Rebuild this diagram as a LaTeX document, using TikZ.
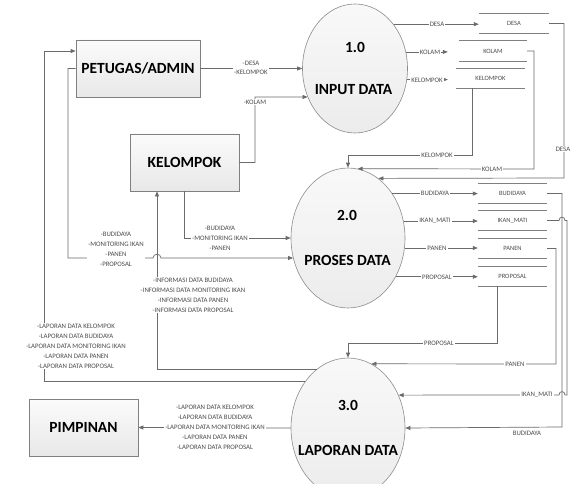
\documentclass[tikz,border=0pt]{standalone}
\usepackage{fontspec}
\setmainfont{Carlito}
\usetikzlibrary{arrows.meta,shapes.geometric}
\begin{document}
\begin{tikzpicture}[x=1pt,y=-1pt,
  ent/.style={draw=black!50, line width=0.7pt, top color=gray!3, bottom color=gray!18, inner sep=0pt, font=\fontsize{15.5}{18}\selectfont\bfseries},
  proc/.style={ellipse, draw=black!45, line width=0.6pt, top color=gray!5, bottom color=gray!15, inner sep=0pt},
  ptitle/.style={font=\fontsize{15.5}{18}\selectfont\bfseries, inner sep=0pt},
  store/.style={inner sep=0pt, font=\fontsize{6.5}{7}\selectfont, text=black!70},
  storeline/.style={draw=black!50, line width=0.8pt},
  flow/.style={draw=black!58, line width=0.7pt, -{Triangle[length=5pt,width=4pt]}},
  lbl/.style={font=\fontsize{6.8}{10}\selectfont, text=black!70, fill=white, inner sep=1pt, align=center},
  lblc/.style={lbl, font=\fontsize{6.8}{9}\selectfont},
]
\clip (0,0) rectangle (573,484);
\fill[white] (0,0) rectangle (573,484);

% external entities
\node[ent, minimum width=124pt, minimum height=57pt] (pet) at (138,68.5) {PETUGAS/ADMIN};
\node[ent, minimum width=109pt, minimum height=57pt] (kel) at (184.5,162.5) {KELOMPOK};
\node[ent, minimum width=109pt, minimum height=57pt] (pim) at (83.5,427.5) {PIMPINAN};

% processes
\node[proc, minimum width=105pt, minimum height=129pt] (p1) at (355,68.5) {};
\node[ptitle] (p1n) at (355,47) {1.0};
\node[ptitle] (p1t) at (353.5,90) {INPUT DATA};
\node[proc, minimum width=114pt, minimum height=140pt] (p2) at (348,238) {};
\node[ptitle] (p2n) at (347,215) {2.0};
\node[ptitle] (p2t) at (347.5,260) {PROSES DATA};
\node[proc, minimum width=114pt, minimum height=140pt] (p3) at (348,428) {};
\node[ptitle] (p3n) at (348,405) {3.0};
\node[ptitle] (p3t) at (348,450) {LAPORAN DATA};

% data stores
\node[store, minimum width=70pt, minimum height=19pt] (sDesa) at (514,23.5) {DESA};
\node[store, minimum width=68pt, minimum height=20pt] (sKolam) at (493,51) {KOLAM};
\node[store, minimum width=69pt, minimum height=19pt] (sKel) at (490.5,78.5) {KELOMPOK};
\node[store, minimum width=69pt, minimum height=19pt] (sBud) at (512.5,193.5) {BUDIDAYA};
\node[store, minimum width=69pt, minimum height=19pt] (sIkan) at (512.5,220.5) {IKAN\_MATI};
\node[store, minimum width=69pt, minimum height=19pt] (sPanen) at (512.5,248.5) {PANEN};
\node[store, minimum width=69pt, minimum height=19pt] (sProp) at (512.5,276.5) {PROPOSAL};
\foreach \s in {sDesa,sKolam,sKel,sBud,sIkan,sPanen,sProp}{
  \draw[storeline] (\s.north west) -- (\s.north east) (\s.south west) -- (\s.south east);
}

% bend coordinates
\coordinate (cK) at (255,97);
\coordinate (cKel) at (472,155);
\coordinate (cKol) at (534,169);
\coordinate (cDes) at (564,178);
\coordinate (cPet) at (68,258);
\coordinate (cProp) at (497,343);
\coordinate (cPan) at (556,364);
\coordinate (cBud) at (562,427);
\coordinate (cIk) at (567,395);
\coordinate (cInf) at (157,370);
\coordinate (cLap) at (44,51);

% flows into / out of 1.0
\draw[flow] (pet.east) -- (p1.west);
\draw[flow] (kel.east) -| (cK) -- (p1.211.2);
\draw[flow] (p1.49.5) -- (p1.49.5 -| sDesa.west);
\draw[flow, shorten >=11pt] (p1.18) -- (p1.18 -| sKolam.west);
\draw[flow, shorten >=8pt] (p1.-12.5) -- (p1.-12.5 -| sKel.west);

% flows into 2.0
\draw[flow] (cKel |- sKel.south) -- (cKel) -| (p2.north);
\draw[flow] (sKolam.east) -| (cKol) -- (p2.82.1);
\draw[flow] (sDesa.east) -| (cDes) -- (p2.63.9);
\draw[flow] (kel.south) |- (p2.west);
\draw[flow] (pet.west) -| (cPet) -- (153,258) .. controls (153,253) and (161,253) .. (161,258) -- (p2.200.1);

% flows out of 2.0
\draw[flow] (p2.45.8) -- (p2.45.8 -| sBud.west);
\draw[flow] (p2.17.1) -- (p2.17.1 -| sIkan.west);
\draw[flow] (p2.-10.1) -- (p2.-10.1 -| sPanen.west);
\draw[flow] (p2.-39.5) -- (p2.-39.5 -| sProp.west);

% flows into 3.0
\draw[flow] (cProp |- sProp.south) -- (cProp) -| (p3.north);
\draw[flow] (sPanen.east) -| (cPan) -- (p3.70.1);
\draw[flow] (sBud.east) -| (cBud) -- (p3.0.8);
\draw[flow] (sIkan.east) -- (559,220.5) .. controls (559,216) and (565,216) .. (565,220.5) -| (cIk) -- (565,395) .. controls (565,390.5) and (559,390.5) .. (559,395) -- (p3.33.3);

% flows out of 3.0
\draw[flow] (p3.118.8) -| (kel.south -| cInf);
\draw[flow] (p3.133.1) -| (cLap) -- (pet.west |- cLap);
\draw[flow] (p3.west) -- (pim.east);

% labels
\node[lblc] (l1) at (251,68) {-DESA\\-KELOMPOK};
\node[lbl] (l2) at (255,102) {-KOLAM};
\node[lbl] (l3) at (437,24) {DESA};
\node[lbl] (l4) at (430,52) {KOLAM};
\node[lbl] (l5) at (427,80) {KELOMPOK};
\node[lbl] (l6) at (437,155) {KELOMPOK};
\node[lbl] (l7) at (492,169) {KOLAM};
\node[lbl] (l8) at (563,149) {DESA};
\node[lbl] (l9) at (220,238) {-BUDIDAYA\\-MONITORING IKAN\\-PANEN};
\node[lbl] (l10) at (116,249) {-BUDIDAYA\\-MONITORING IKAN\\-PANEN\\-PROPOSAL};
\node[lbl] (l11) at (435,193) {BUDIDAYA};
\node[lbl] (l12) at (435,221) {IKAN\_MATI};
\node[lbl] (l13) at (437,248) {PANEN};
\node[lbl] (l14) at (437,277) {PROPOSAL};
\node[lbl] (l15) at (439,343) {PROPOSAL};
\node[lbl] (l16) at (515,364) {PANEN};
\node[lbl] (l17) at (537,395) {IKAN\_MATI};
\node[lbl, fill=none] (l18) at (527,433) {BUDIDAYA};
\node[lbl] (l19) at (193,295) {-INFORMASI DATA BUDIDAYA\\-INFORMASI DATA MONITORING IKAN\\-INFORMASI  DATA PANEN\\-INFORMASI DATA PROPOSAL};
\node[lbl] (l20) at (76,346) {-LAPORAN DATA KELOMPOK\\-LAPORAN DATA BUDIDAYA\\-LAPORAN DATA MONITORING IKAN\\-LAPORAN DATA PANEN\\-LAPORAN DATA PROPOSAL};
\node[lbl] (l21) at (215,427) {-LAPORAN DATA KELOMPOK\\-LAPORAN DATA BUDIDAYA\\-LAPORAN DATA MONITORING IKAN\\-LAPORAN DATA PANEN\\-LAPORAN DATA PROPOSAL};
\end{tikzpicture}
\end{document}
